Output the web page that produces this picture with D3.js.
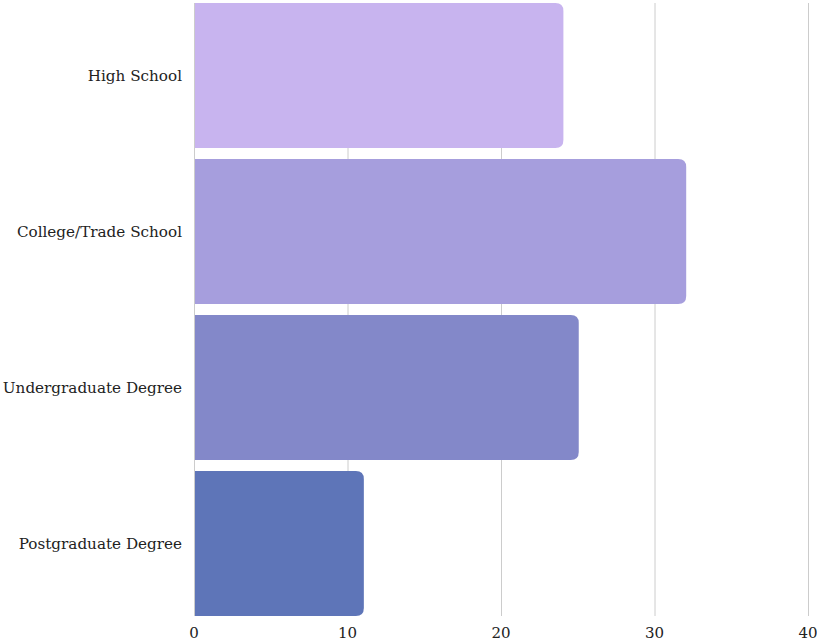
<!DOCTYPE html>
<html>
<head>
<meta charset="utf-8">
<script src="https://cdn.jsdelivr.net/npm/d3@7"></script>
<style>
  body { margin: 0; background: #fff; }
  text { font-family: "DejaVu Serif", serif; fill: #222; }
</style>
</head>
<body>
<div id="chart"></div>
<script>
var categories = ["High School", "College/Trade School", "Undergraduate Degree", "Postgraduate Degree"]
var values = [24, 32, 25, 11]
var colors = ["#c8b4ef", "#a69edd", "#8388c9", "#5e75b8"]
var xTicks = [0, 10, 20, 30, 40]

var width = 817, height = 644
var margin = {top: 0, left: 194, right: 9}
var plotBottom = 619

var svg = d3.select("#chart").append("svg")
    .attr("width", width)
    .attr("height", height)

var x = d3.scaleLinear()
    .domain([0, 40])
    .range([margin.left, width - margin.right])

var y = d3.scaleBand()
    .domain(categories)
    .range([0, plotBottom])
    .paddingInner(0.0705)
    .paddingOuter(0.019)

// grid lines
svg.append("g").selectAll("line")
    .data(xTicks)
    .join("line")
    .attr("x1", d => x(d) + 0.5)
    .attr("x2", d => x(d) + 0.5)
    .attr("y1", 3)
    .attr("y2", 616)
    .attr("stroke", "#cccccc")
    .attr("stroke-width", 1)

// bars with rounded right end
var r = 8
svg.append("g").selectAll("path")
    .data(categories)
    .join("path")
    .attr("fill", (d, i) => colors[i])
    .attr("d", function(d, i) {
        var x0 = x(0) + 1, x1 = x(values[i]) + 1
        var y0 = y(d), y1 = y(d) + y.bandwidth()
        return "M" + x0 + "," + y0 +
            "H" + (x1 - r) +
            "Q" + x1 + "," + y0 + " " + x1 + "," + (y0 + r) +
            "V" + (y1 - r) +
            "Q" + x1 + "," + y1 + " " + (x1 - r) + "," + y1 +
            "H" + x0 + "Z"
    })

// category labels
svg.append("g").selectAll("text")
    .data(categories)
    .join("text")
    .attr("x", x(0) - 12)
    .attr("y", d => y(d) + y.bandwidth() / 2)
    .attr("dy", "0.35em")
    .attr("text-anchor", "end")
    .attr("font-size", 15.2)
    .text(d => d)

// x axis labels
svg.append("g").selectAll("text")
    .data(xTicks)
    .join("text")
    .attr("x", d => x(d))
    .attr("y", 633)
    .attr("dy", "0.35em")
    .attr("text-anchor", "middle")
    .attr("font-size", 15)
    .text(d => d)
</script>
</body>
</html>
